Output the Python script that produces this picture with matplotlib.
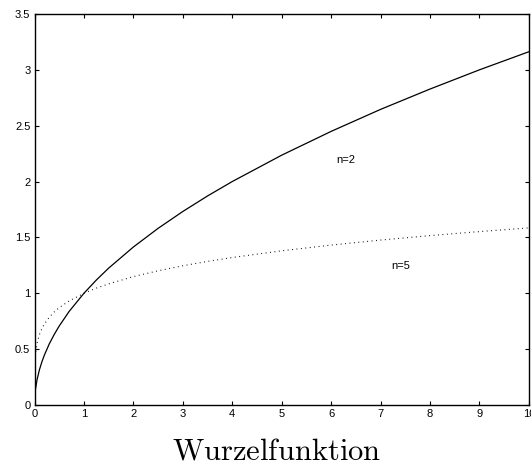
import matplotlib
matplotlib.use("Agg")
import matplotlib.pyplot as plt

plt.rcParams['font.family'] = ['Liberation Sans', 'DejaVu Sans']
plt.rcParams['mathtext.fontset'] = 'cm'

# Stützstellen der beiden Wurzelkurven
x_vals = [0, 0.0005, 0.002, 0.005, 0.01, 0.02, 0.05, 0.1, 0.15, 0.2, 0.3, 0.4,
          0.5, 0.7, 1, 1.25, 1.5, 2, 2.5, 3, 3.5, 4, 5, 6, 7, 8, 9, 10]
sqrt2 = [0, 0.022, 0.045, 0.071, 0.100, 0.141, 0.224, 0.316, 0.387, 0.447, 0.548, 0.632,
         0.707, 0.837, 1.000, 1.118, 1.225, 1.414, 1.581, 1.732, 1.871, 2.000,
         2.236, 2.449, 2.646, 2.828, 3.000, 3.162]
sqrt5 = [0, 0.218, 0.289, 0.347, 0.398, 0.457, 0.549, 0.631, 0.684, 0.725, 0.786, 0.833,
         0.871, 0.931, 1.000, 1.046, 1.084, 1.149, 1.201, 1.246, 1.285, 1.320,
         1.380, 1.431, 1.476, 1.516, 1.552, 1.585]

x_ticks = list(range(0, 11))
y_ticks = [0, 0.5, 1, 1.5, 2, 2.5, 3, 3.5]
y_tick_labels = ['0', '0.5', '1', '1.5', '2', '2.5', '3', '3.5']

fig = plt.figure(figsize=(5.31, 4.66), dpi=100)
ax = fig.add_axes([0.065, 0.131, 0.931, 0.839])

ax.plot(x_vals, sqrt2, color='black', linewidth=0.9)
ax.plot(x_vals, sqrt5, color='black', linewidth=0.8, linestyle=(0, (0.8, 3.2)))

ax.text(6.1, 2.19, 'n=2', fontsize=8, va='center')
ax.text(7.22, 1.245, 'n=5', fontsize=8, va='center')

ax.set_xlim(0, 10)
ax.set_ylim(0, 3.5)
ax.set_xticks(x_ticks)
ax.set_xticklabels([str(t) for t in x_ticks])
ax.set_yticks(y_ticks)
ax.set_yticklabels(y_tick_labels)
ax.tick_params(direction='in', length=3, width=0.8, labelsize=8,
               top=True, right=True, pad=3)
for sp in ax.spines.values():
    sp.set_linewidth(1.0)

fig.text(0.521, 0.013, r'$\mathrm{Wurzelfunktion}$', fontsize=22,
         ha='center', va='baseline')

fig.savefig('out.png', dpi=100)
